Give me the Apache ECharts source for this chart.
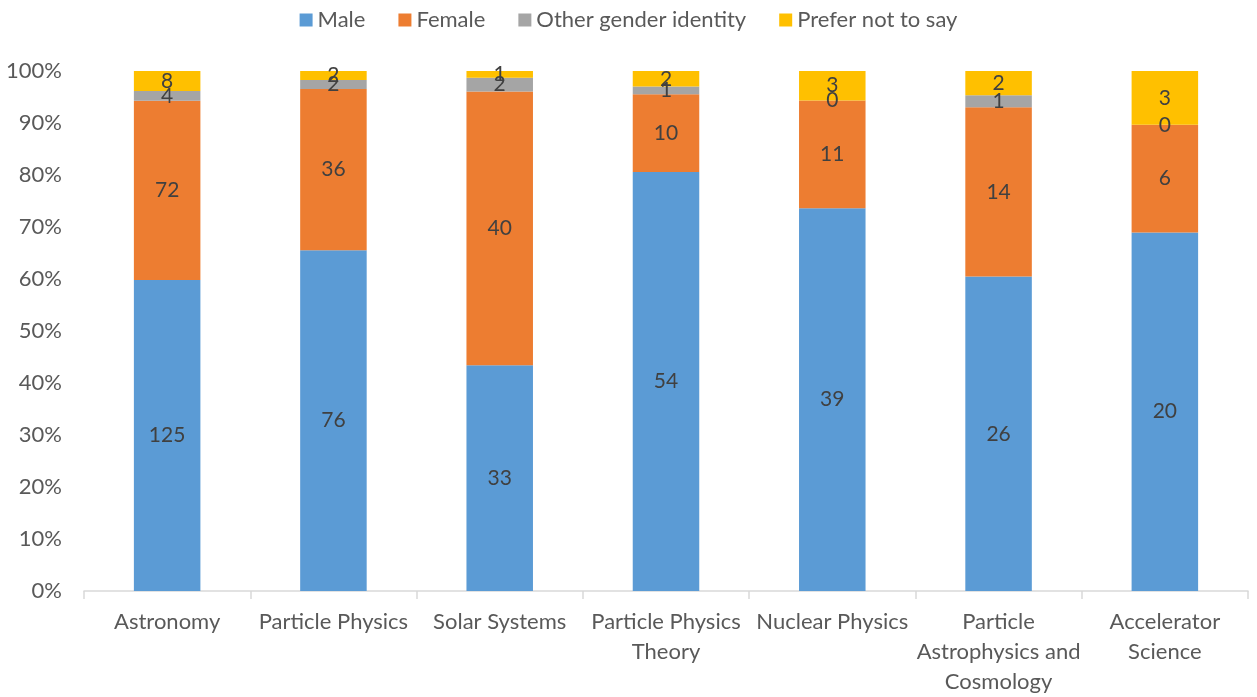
<!DOCTYPE html>
<html>
<head>
<meta charset="utf-8">
<script src="https://cdn.jsdelivr.net/npm/echarts@6/dist/echarts.min.js"></script>
<style>html,body{margin:0;padding:0;background:#fff;}#c{width:1257px;height:697px;}</style>
</head>
<body>
<div id="c"></div>
<script>
const categories = ["Astronomy", "Particle Physics", "Solar Systems", "Particle Physics\nTheory", "Nuclear Physics", "Particle\nAstrophysics and\nCosmology", "Accelerator\nScience"];
const seriesNames = ["Male", "Female", "Other gender identity", "Prefer not to say"];
const male = [125, 76, 33, 54, 39, 26, 20];
const female = [72, 36, 40, 10, 11, 14, 6];
const other = [4, 2, 2, 1, 0, 1, 0];
const preferNot = [8, 2, 1, 2, 3, 2, 3];
const colors = ["#5B9BD5", "#ED7D31", "#A5A5A5", "#FFC000"];

const counts = [male, female, other, preferNot];
const totals = categories.map((_, i) => counts.reduce((s, arr) => s + arr[i], 0));
const FONT = "Lato";

const series = counts.map((arr, k) => ({
  name: seriesNames[k],
  type: "bar",
  stack: "total",
  barWidth: "40%",
  itemStyle: { color: colors[k] },
  label: {
    show: true,
    position: "inside",
    formatter: p => String(p.data.count),
    color: "#404040",
    fontSize: 21,
    fontFamily: FONT
  },
  emphasis: { disabled: true },
  data: arr.map((v, i) => ({ value: v / totals[i] * 100, count: v }))
}));

const chart = echarts.init(document.getElementById("c"));
chart.setOption({
  animation: false,
  textStyle: { fontFamily: FONT },
  legend: {
    top: 4,
    left: "center",
    itemWidth: 13,
    itemHeight: 13,
    itemGap: 33,
    icon: "rect",
    textStyle: { fontSize: 22, color: "#595959", fontFamily: FONT },
    data: seriesNames
  },
  grid: { left: 84, right: 9, top: 71, bottom: 100, containLabel: false },
  xAxis: {
    type: "category",
    data: categories,
    axisLine: { lineStyle: { color: "#D9D9D9", width: 1.5 } },
    axisTick: { show: true, length: 8, lineStyle: { color: "#D9D9D9", width: 1.5 } },
    axisLabel: { color: "#595959", fontSize: 22, fontFamily: FONT, margin: 16, lineHeight: 30, interval: 0 }
  },
  yAxis: {
    type: "value",
    min: 0,
    max: 100,
    interval: 10,
    splitLine: { show: false },
    axisLine: { show: false },
    axisTick: { show: false },
    axisLabel: { formatter: "{value}%", color: "#595959", fontSize: 22, fontFamily: FONT, margin: 22 }
  },
  series: series
});
</script>
</body>
</html>
